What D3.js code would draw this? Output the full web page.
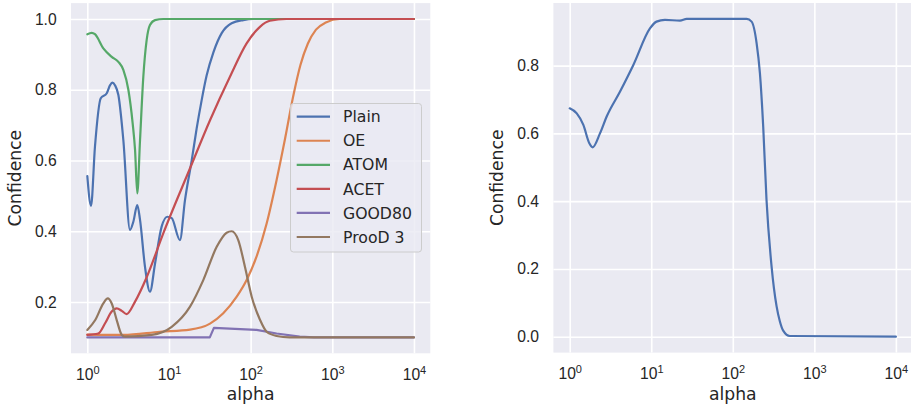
<!DOCTYPE html>
<html>
<head>
<meta charset="utf-8">
<script src="https://cdn.jsdelivr.net/npm/d3@7"></script>
<style>
  body { margin: 0; background: #fff; }
  svg { display: block; font-family: "DejaVu Sans", sans-serif; }
</style>
</head>
<body>
<svg id="chart" width="911" height="406"></svg>
<script>
// values
var seriesNames = ["Plain", "OE", "ATOM", "ACET", "GOOD80", "ProoD 3"];
var seriesColors = ["#4C72B0", "#DD8452", "#55A868", "#C44E52", "#8172B3", "#937860"];

var plainAlpha = [1, 1.11, 1.24, 1.46, 1.73, 1.90, 2.02, 2.18, 2.40, 2.76, 3.33, 3.66, 4.09, 4.42, 5.08, 5.85, 6.75, 8.13, 9.53, 10.8, 13.6, 15.7, 19.0, 21.8, 25.1, 28.9, 34.9, 44.2, 58.5, 81.3, 107, 10000];
var plainConf = [.556, .472, .639, .776, .79, .813, .82, .813, .785, .658, .404, .427, .474, .432, .30, .229, .309, .413, .441, .437, .375, .488, .601, .69, .77, .84, .905, .96, .988, .997, 1.0, 1.0];

var oeAlpha = [1, 2.76, 7.76, 18.1, 31.8, 46.2, 67.5, 89.3, 118, 157, 208, 263, 331, 407, 501, 631, 832, 1230, 10000];
var oeConf = [.108, .107, .116, .122, .139, .168, .215, .262, .328, .422, .545, .66, .78, .87, .93, .97, .99, 1.0, 1.0];

var atomAlpha = [1, 1.13, 1.24, 1.57, 1.99, 2.40, 2.76, 3.18, 3.59, 3.84, 4.09, 4.42, 4.85, 5.33, 5.85, 6.75, 8.51, 10000];
var atomConf = [.957, .961, .957, .917, .893, .879, .856, .80, .705, .63, .507, .658, .837, .941, .983, .997, 1.0, 1.0];

var acetAlpha = [1, 1.36, 1.65, 1.99, 2.29, 2.64, 3.03, 3.84, 5.33, 8.51, 18.1, 31.8, 55.8, 89.3, 130, 172, 275, 10000];
var acetConf = [.107, .111, .14, .173, .182, .175, .166, .201, .27, .394, .578, .714, .837, .931, .978, .995, 1.0, 1.0];

var goodAlpha = [1, 31.6, 35.5, 118, 208, 398, 600, 10000];
var goodConf = [.1, .1, .127, .121, .111, .102, .1, .1];

var proodAlpha = [1, 1.25, 1.57, 1.78, 1.99, 2.29, 2.64, 2.89, 6.14, 10.8, 18.1, 26.3, 38.4, 50.8, 58.5, 70.5, 85.1, 103, 130, 157, 208, 300, 10000];
var proodConf = [.121, .149, .196, .21, .196, .149, .107, .102, .107, .13, .187, .262, .356, .396, .40, .375, .30, .215, .15, .116, .104, .1, .1];

var rightAlpha = [1, 1.22, 1.47, 1.74, 1.91, 2.35, 2.84, 4.13, 6.03, 9.64, 11.6, 14.7, 22.5, 27.2, 148, 170, 196, 215, 236, 259, 299, 344, 378, 415, 501, 10000];
var rightConf = [.674, .659, .625, .571, .559, .60, .65, .723, .802, .91, .930, .935, .933, .938, .938, .930, .866, .778, .62, .404, .207, .09, .045, .018, .002, 0];

var xTickValues = [1, 10, 100, 1000, 10000];
var leftYTicks = [0.2, 0.4, 0.6, 0.8, 1.0];
var rightYTicks = [0.0, 0.2, 0.4, 0.6, 0.8];

var textColor = "#262626";
var svg = d3.select("#chart");

function zip(xs, ys) {
  return xs.map(function (x, i) { return { a: x, c: ys[i] }; });
}

function drawPanel(p) {
  var x = d3.scaleLog().domain([Math.pow(10, -0.2), Math.pow(10, 4.2)]).range([p.left, p.right]);
  var y = d3.scaleLinear().domain(p.yDomain).range([p.bottom, p.top]);
  var g = svg.append("g");

  g.append("rect")
    .attr("x", p.left).attr("y", p.top)
    .attr("width", p.right - p.left).attr("height", p.bottom - p.top)
    .attr("fill", "#EAEAF2");

  // x axis + vertical grid
  var xa = g.append("g")
    .attr("transform", "translate(0," + p.bottom + ")")
    .call(d3.axisBottom(x).tickValues(xTickValues)
      .tickSizeInner(-(p.bottom - p.top)).tickSizeOuter(0).tickPadding(15.6)
      .tickFormat(function () { return "10"; }));
  xa.select(".domain").remove();
  xa.selectAll("line").attr("stroke", "#fff").attr("stroke-width", 1.6);
  xa.selectAll("text")
    .attr("fill", textColor).style("font-size", "15.7px")
    .append("tspan")
    .attr("dy", "-6.5").style("font-size", "11px")
    .text(function (d) { return Math.round(Math.log10(d)); });

  // y axis + horizontal grid
  var ya = g.append("g")
    .attr("transform", "translate(" + p.left + ",0)")
    .call(d3.axisLeft(y).tickValues(p.yTicks)
      .tickSizeInner(-(p.right - p.left)).tickSizeOuter(0).tickPadding(14.3)
      .tickFormat(d3.format(".1f")));
  ya.select(".domain").remove();
  ya.selectAll("line").attr("stroke", "#fff").attr("stroke-width", 1.6);
  ya.selectAll("text").attr("fill", textColor).style("font-size", "15.7px");

  g.append("text")
    .attr("x", (x(1) + x(10000)) / 2).attr("y", 400)
    .attr("text-anchor", "middle").attr("fill", textColor)
    .style("font-size", "17.2px").text("alpha");

  g.append("text")
    .attr("transform", "translate(" + p.yLabelX + "," + ((p.top + p.bottom) / 2) + ") rotate(-90)")
    .attr("text-anchor", "middle").attr("dy", "0.35em").attr("fill", textColor)
    .style("font-size", "17.2px").text("Confidence");

  p.series.forEach(function (s) {
    var line = d3.line()
      .x(function (d) { return x(d.a); })
      .y(function (d) { return y(d.c); })
      .curve(s.curve);
    g.append("path")
      .datum(zip(s.alpha, s.conf))
      .attr("fill", "none")
      .attr("stroke", s.color)
      .attr("stroke-width", 2.2)
      .attr("stroke-linejoin", "round")
      .attr("stroke-linecap", "round")
      .attr("d", line);
  });
  return g;
}

var leftSeries = [
  { alpha: plainAlpha, conf: plainConf, curve: d3.curveMonotoneX },
  { alpha: oeAlpha, conf: oeConf, curve: d3.curveMonotoneX },
  { alpha: atomAlpha, conf: atomConf, curve: d3.curveMonotoneX },
  { alpha: acetAlpha, conf: acetConf, curve: d3.curveMonotoneX },
  { alpha: goodAlpha, conf: goodConf, curve: d3.curveLinear },
  { alpha: proodAlpha, conf: proodConf, curve: d3.curveMonotoneX }
];
leftSeries.forEach(function (s, i) { s.color = seriesColors[i]; });

var leftPanel = drawPanel({
  left: 71, right: 430.3, top: 3.1, bottom: 353.3,
  yDomain: [0.055, 1.045], yTicks: leftYTicks, yLabelX: 15,
  series: leftSeries
});

drawPanel({
  left: 553.4, right: 912.2, top: 3.0, bottom: 352.6,
  yDomain: [-0.047, 0.985], yTicks: rightYTicks, yLabelX: 497,
  series: [{ alpha: rightAlpha, conf: rightConf, curve: d3.curveMonotoneX, color: seriesColors[0] }]
});

// legend
var legend = leftPanel.append("g");
legend.append("rect")
  .attr("x", 290.5).attr("y", 103.5).attr("width", 131).attr("height", 148.5)
  .attr("rx", 3)
  .attr("fill", "#EAEAF2").attr("fill-opacity", 0.8)
  .attr("stroke", "#cccccc").attr("stroke-width", 1);

var rowY = d3.scalePoint().domain(seriesNames).range([116.7, 237]);
seriesNames.forEach(function (name, i) {
  var yy = rowY(name);
  legend.append("line")
    .attr("x1", 296.7).attr("x2", 330).attr("y1", yy).attr("y2", yy)
    .attr("stroke", seriesColors[i]).attr("stroke-width", 2.2);
  legend.append("text")
    .attr("x", 343).attr("y", yy).attr("dy", "0.36em")
    .attr("fill", textColor).style("font-size", "15.7px")
    .text(name);
});
</script>
</body>
</html>
